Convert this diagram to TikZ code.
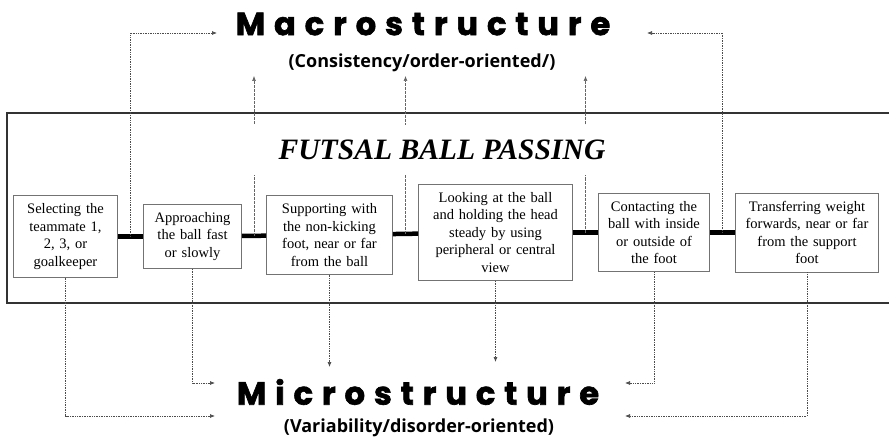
\documentclass[tikz,border=0pt]{standalone}
\usepackage{fontspec}
\setmainfont{Liberation Serif}
\newfontfamily\headfont{Poppins}[LetterSpace=28,FakeBold=2]
\newfontfamily\subfont{Open Sans}
\usetikzlibrary{arrows.meta,calc}

\tikzset{
  stepbox/.style={draw=black!55, line width=0.8pt, align=center, inner xsep=5pt, inner ysep=8pt,
    font=\fontsize{14.5}{17.5}\selectfont},
  link/.style={line width=4.5pt},
  dotline/.style={densely dotted, line width=0.7pt, black!70, -{Latex[length=5pt,width=4pt]}},
  upline/.style={dash pattern=on 3pt off 1pt, line width=0.6pt, black!60, -{Latex[length=5pt,width=4pt]}},
  headline/.style={font=\headfont\bfseries\fontsize{32}{32}\selectfont},
  subline/.style={font=\subfont\bfseries\fontsize{18}{18}\selectfont}
}

\begin{document}
\begin{tikzpicture}[x=1pt, y=-1pt]
		%%%%% START %%%%%
		\useasboundingbox (0,0) rectangle (889,441);

		% frame
		\draw[line width=1.8pt, black!80] (7,113) rectangle (900,303);

		% steps of the pass
		\node[stepbox, text width=94pt] (select) at (65.5,236.5) {Selecting the\\teammate 1,\\2, 3, or\\goalkeeper};
		\node[stepbox, text width=88pt] (approach) at (192.5,236.5) {Approaching\\the ball fast\\or slowly};
		\node[stepbox, text width=116pt] (support) at (329.5,235) {Supporting with\\the non-kicking\\foot, near or far\\from the ball};
		\node[stepbox, text width=144pt] (look) at (495.5,232.5) {Looking at the ball\\and holding the head\\steady by using\\peripheral or central\\view};
		\node[stepbox, text width=101pt] (contact) at (654,232.5) {Contacting the\\ball with inside\\or outside of\\the foot};
		\node[stepbox, text width=133pt] (transfer) at (807,232.5) {Transferring weight\\forwards, near or far\\from the support\\foot};

		\draw[link] (select) -- (approach);
		\draw[link] (approach) -- (support);
		\draw[link] (support) -- (look);
		\draw[link] (look) -- (contact);
		\draw[link] (contact) -- (transfer);

		\coordinate (c1) at ($(select.east)!0.5!(approach.west)$);
		\coordinate (c2) at ($(approach.east)!0.5!(support.west)$);
		\coordinate (c3) at ($(support.east)!0.5!(look.west)$);
		\coordinate (c4) at ($(look.east)!0.5!(contact.west)$);
		\coordinate (c5) at ($(contact.east)!0.5!(transfer.west)$);

		% headings
		\node[headline] (macro) at (423,24) {Macrostructure};
		\node[subline] (macrosub) at (422,63) {(Consistency/order-oriented/)};
		\node[headline] (micro) at (418,392) {Microstructure};
		\node[subline] (microsub) at (419,428) {(Variability/disorder-oriented)};

		% to the macrostructure
		\coordinate (ml) at (217,33);
		\coordinate (mr) at (647,33);
		\draw[dotline] (c1) |- (ml);
		\draw[dotline] (c5) |- (mr);
		\draw[upline] (c2) -- (c2 |- 0,76);
		\draw[upline] (c3) -- (c3 |- 0,76);
		\draw[upline] (c4) -- (c4 |- 0,76);

		\node[fill=white, minimum width=392pt, minimum height=50pt,
		  font=\fontsize{29.6}{30}\selectfont\bfseries\itshape] (title) at (442,150) {FUTSAL BALL PASSING};

		% to the microstructure
		\coordinate (lu) at (215,383);
		\coordinate (ld) at (215,416);
		\coordinate (ru) at (625,383);
		\coordinate (rd) at (625,416);
		\draw[dotline] (select) |- (ld);
		\draw[dotline] (approach) |- (lu);
		\draw[dotline] (support) -- (support.south |- 0,367);
		\draw[dotline] (look) -- (look.south |- 0,362);
		\draw[dotline] (contact) |- (ru);
		\draw[dotline] (transfer) |- (rd);

		%%%%% END %%%%%
\end{tikzpicture}
\end{document}
